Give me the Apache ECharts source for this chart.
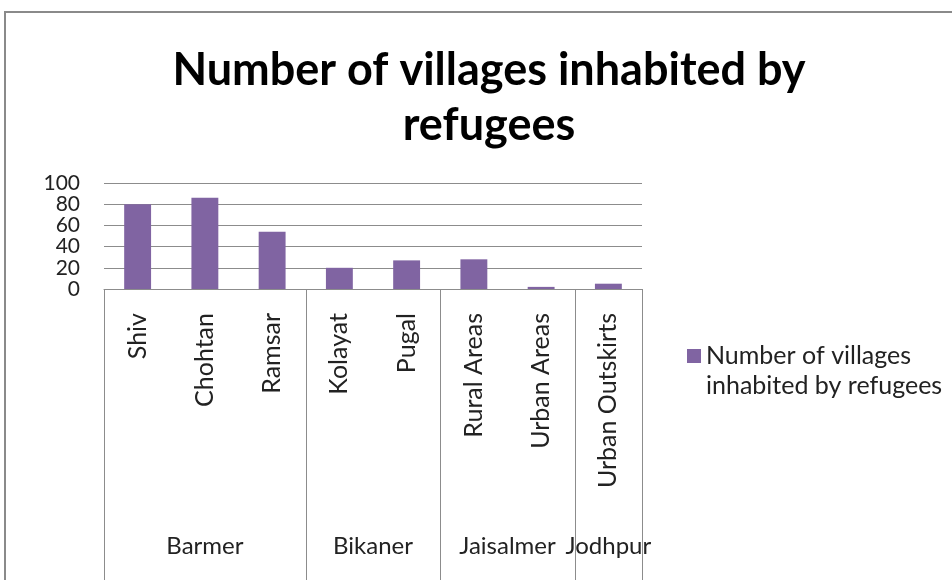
<!DOCTYPE html>
<html>
<head>
<meta charset="UTF-8">
<title>Number of villages inhabited by refugees</title>
<script src="https://cdn.jsdelivr.net/npm/echarts@6/dist/echarts.min.js"></script>
<style>
  * {margin: 0; padding: 0;}
  body {background: #fff;}
  #chart {width: 952px; height: 580px;}
</style>
</head>
<body>
<div id="chart"></div>
<script>
// data
var subCategories = ['Shiv', 'Chohtan', 'Ramsar', 'Kolayat', 'Pugal', 'Rural Areas', 'Urban Areas', 'Urban Outskirts'];
var villages = [80, 86, 54, 20, 27, 28, 2, 5];
var groups = ['Barmer', 'Bikaner', 'Jaisalmer', 'Jodhpur'];
var groupSizes = [3, 2, 2, 1];
var yTicks = [0, 20, 40, 60, 80, 100];
var seriesName = 'Number of villages inhabited by refugees';

// group axis: half-category points so that group centres and borders fall on points
var groupSlots = [];
var groupTickIdx = {};
var groupLabelIdx = {};
(function () {
  var n = subCategories.length * 2 + 1;
  for (var i = 0; i < n; i++) groupSlots.push('');
  var start = 0;
  for (var g = 0; g < groups.length; g++) {
    groupTickIdx[start * 2] = true;
    groupLabelIdx[start * 2 + groupSizes[g]] = true;
    groupSlots[start * 2 + groupSizes[g]] = groups[g];
    start += groupSizes[g];
  }
  groupTickIdx[start * 2] = true;
})();

var font = 'Lato, "Open Sans", sans-serif';
var lineGray = '#8c8c8c';

var chart = echarts.init(document.getElementById('chart'));

var option = {
  animation: false,
  backgroundColor: '#fff',
  title: {
    text: 'Number of villages inhabited by\nrefugees',
    left: 484,
    top: 38,
    textAlign: 'center',
    textStyle: {
      fontFamily: font,
      fontSize: 45,
      fontWeight: 'bold',
      lineHeight: 55,
      color: '#000'
    }
  },
  legend: {
    left: 682,
    top: 306,
    icon: 'rect',
    itemWidth: 14,
    itemHeight: 14,
    itemGap: 4,
    // leading blank line keeps the first text line level with the icon
    formatter: function () { return ' \nNumber of villages\ninhabited by refugees'; },
    textStyle: {
      fontFamily: font,
      fontSize: 25,
      lineHeight: 30,
      color: '#222'
    },
    data: [seriesName]
  },
  graphic: [{
    type: 'rect',
    shape: {x: 5, y: 12, width: 960, height: 600},
    style: {fill: 'none', stroke: '#8a8a8a', lineWidth: 2},
    silent: true
  }],
  grid: {left: 104, right: 310, top: 183, bottom: 291},
  xAxis: [{
    type: 'category',
    data: subCategories,
    boundaryGap: true,
    axisLine: {lineStyle: {color: lineGray, width: 1}},
    axisTick: {length: 213, lineStyle: {color: lineGray, width: 1}},
    axisLabel: {
      rotate: 90,
      margin: 24,
      interval: 0,
      fontFamily: font,
      fontSize: 25,
      color: '#222'
    }
  }, {
    type: 'category',
    data: groupSlots,
    boundaryGap: false,
    position: 'bottom',
    axisLine: {show: false},
    axisTick: {
      length: 300,
      interval: function (i) { return !!groupTickIdx[i]; },
      lineStyle: {color: lineGray, width: 1}
    },
    axisLabel: {
      margin: 245,
      interval: function (i) { return !!groupLabelIdx[i]; },
      fontFamily: font,
      fontSize: 24,
      color: '#222'
    }
  }],
  yAxis: {
    type: 'value',
    min: yTicks[0],
    max: yTicks[yTicks.length - 1],
    interval: yTicks[1] - yTicks[0],
    axisLine: {show: false},
    axisTick: {show: false},
    axisLabel: {
      margin: 24,
      showMinLabel: true,
      showMaxLabel: true,
      hideOverlap: false,
      fontFamily: font,
      fontSize: 21,
      lineHeight: 16,
      color: '#222'
    },
    splitLine: {lineStyle: {color: lineGray, width: 1}}
  },
  series: [{
    name: seriesName,
    type: 'bar',
    xAxisIndex: 0,
    barWidth: '40%',
    itemStyle: {color: '#8064A2'},
    data: villages
  }]
};

chart.setOption(option);
</script>
</body>
</html>
